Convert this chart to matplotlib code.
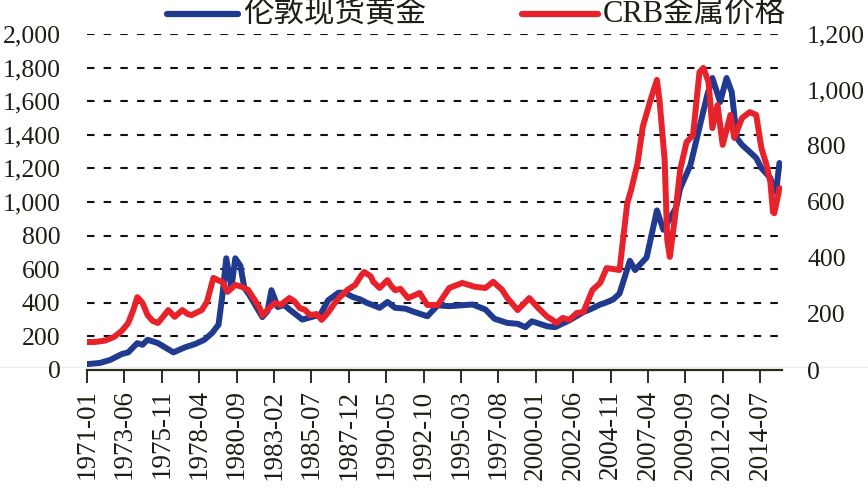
import matplotlib
matplotlib.use("Agg")
import matplotlib.pyplot as plt
from matplotlib.lines import Line2D

# ---------------- data ----------------
tick_labels = ["1971-01", "1973-06", "1975-11", "1978-04", "1980-09", "1983-02",
               "1985-07", "1987-12", "1990-05", "1992-10", "1995-03", "1997-08",
               "2000-01", "2002-06", "2004-11", "2007-04", "2009-09", "2012-02",
               "2014-07"]

gold_dates = ["1971-01", "1971-11", "1972-07", "1973-04", "1973-09", "1974-04",
              "1974-08", "1974-12", "1975-08", "1976-08", "1977-05", "1978-01",
              "1978-08", "1979-02", "1979-07", "1979-10", "1980-01", "1980-05",
              "1980-08", "1980-12", "1981-03", "1981-07", "1982-05", "1982-09",
              "1982-12", "1983-05", "1983-10", "1984-02", "1984-12", "1985-07",
              "1986-02", "1986-08", "1987-04", "1987-09", "1988-03", "1988-09",
              "1989-02", "1989-12", "1990-06", "1990-12", "1991-08", "1992-03",
              "1993-01", "1993-09", "1994-06", "1995-12", "1996-10", "1997-05",
              "1998-03", "1998-11", "1999-05", "1999-10", "2000-04", "2000-10",
              "2001-04", "2001-08", "2002-03", "2003-02", "2003-07", "2004-03",
              "2004-07", "2005-01", "2005-06", "2006-02", "2006-06", "2007-03",
              "2007-11", "2008-04", "2008-09", "2009-02", "2009-05", "2010-01",
              "2010-06", "2011-02", "2011-06", "2011-12", "2012-05", "2012-09",
              "2013-01", "2013-05", "2013-11", "2014-04", "2014-08", "2015-03",
              "2015-06", "2015-08", "2015-10"]
gold_values = [35, 42, 60, 95, 105, 160,
               150, 180, 160, 105, 135, 155,
               180, 220, 270, 445, 665, 490,
               665, 620, 490, 445, 315, 350,
               475, 375, 387, 360, 300, 315,
               330, 415, 460, 460, 435, 420,
               400, 370, 405, 370, 365, 345,
               320, 385, 380, 390, 360, 305,
               280, 275, 255, 290, 275, 260,
               255, 270, 295, 345, 360, 390,
               400, 420, 455, 650, 595, 670,
               950, 835, 900, 970, 1080, 1220,
               1380, 1636, 1738, 1595, 1738, 1655,
               1380, 1340, 1298, 1262, 1202, 1143,
               1060, 1100, 1232]

crb_dates = ["1971-01", "1971-07", "1972-03", "1972-10", "1973-04", "1973-09",
             "1974-01", "1974-04", "1974-08", "1974-12", "1975-04", "1975-08",
             "1975-12", "1976-04", "1976-09", "1977-03", "1977-07", "1977-10",
             "1978-02", "1978-06", "1978-10", "1979-03", "1979-07", "1979-10",
             "1980-02", "1980-08", "1981-01", "1981-06", "1981-11", "1982-03",
             "1982-05", "1982-11", "1983-03", "1983-07", "1984-02", "1984-06",
             "1984-10", "1985-02", "1985-06", "1985-11", "1986-03", "1986-08",
             "1986-12", "1987-05", "1987-11", "1988-05", "1988-10", "1988-12",
             "1989-05", "1989-07", "1989-12", "1990-06", "1990-09", "1990-12",
             "1991-04", "1991-10", "1992-07", "1993-01", "1993-09", "1994-06",
             "1995-04", "1996-02", "1996-10", "1997-04", "1997-11", "1998-03",
             "1998-11", "1999-08", "2000-03", "2000-10", "2001-02", "2001-05",
             "2001-10", "2002-03", "2002-09", "2003-02", "2003-09", "2004-03",
             "2004-08", "2005-02", "2005-06", "2005-12", "2006-03", "2006-08",
             "2006-12", "2007-06", "2007-11", "2008-01", "2008-05", "2008-07",
             "2008-09", "2009-01", "2009-05", "2009-10", "2010-03", "2010-08",
             "2010-11", "2011-03", "2011-06", "2011-10", "2012-02", "2012-08",
             "2012-11", "2013-05", "2013-11", "2014-04", "2014-08", "2014-12",
             "2015-03", "2015-05", "2015-06", "2015-09", "2015-10"]
crb_values = [100, 100, 105, 118, 140, 168,
              215, 260, 240, 196, 175, 168,
              190, 214, 190, 214, 200, 196,
              205, 214, 243, 329, 320, 315,
              279, 304, 297, 286, 250, 221,
              195, 225, 240, 232, 257, 245,
              221, 215, 196, 200, 179, 205,
              232, 260, 286, 304, 340, 350,
              335, 315, 293, 321, 300, 285,
              290, 257, 275, 232, 232, 293,
              311, 297, 293, 315, 286, 257,
              214, 257, 221, 190, 179, 168,
              186, 179, 204, 207, 286, 311,
              364, 360, 357, 596, 643, 739,
              868, 964, 1036, 964, 750, 464,
              404, 546, 714, 814, 839, 1064,
              1079, 1029, 864, 946, 804, 911,
              829, 900, 921, 911, 793, 732,
              671, 564, 560, 625, 650]


def month_index(s):
    y, m = s.split("-")
    return (int(y) - 1971) * 12 + int(m) - 1


gx = [month_index(d) for d in gold_dates]
cx = [month_index(d) for d in crb_dates]
tick_pos = [month_index(d) for d in tick_labels]

# ---------------- style ----------------
NAVY = "#1f3a8e"
RED = "#e8222b"
TXT = "#1e1e14"
SERIF = ["Liberation Serif", "DejaVu Serif"]
CJK = ["Liberation Serif", "Noto Sans CJK SC", "DejaVu Sans"]

fig = plt.figure(figsize=(8.68, 4.93), dpi=100)
fig.patch.set_facecolor("white")

# faint baseline across the figure
fig.add_artist(Line2D([0, 1], [1 - 367 / 493, 1 - 367 / 493], color="#ececec",
                      lw=0.8, transform=fig.transFigure, zorder=0))

ax = fig.add_axes([87 / 868, 1 - 370 / 493, (782 - 87) / 868, (370 - 34) / 493])
ax2 = ax.twinx()

ax.set_xlim(0, 539)
ax.set_ylim(0, 2000)
ax2.set_ylim(0, 1200)

# grid lines (dashed) on left scale
for v in range(200, 2001, 200):
    ax.axhline(v, color="#111111", lw=1.5, ls=(0, (3.6, 4.4)), zorder=1)

ax.plot(gx, gold_values, color=NAVY, lw=4.3, solid_joinstyle="round",
        solid_capstyle="round", zorder=3)
ax2.plot(cx, crb_values, color=RED, lw=4.3, solid_joinstyle="round",
         solid_capstyle="round", zorder=3)

for a in (ax, ax2):
    for s in ("left", "right", "top", "bottom"):
        a.spines[s].set_visible(False)
    a.patch.set_visible(False)

ax.spines["bottom"].set_visible(True)
ax.spines["bottom"].set_color("#2b2b20")
ax.spines["bottom"].set_linewidth(1.6)

ax.set_yticks(range(0, 2001, 200))
ax.set_yticklabels([f"{v:,}" for v in range(0, 2001, 200)])
ax2.set_yticks(range(0, 1201, 200))
ax2.set_yticklabels([f"{v:,}" for v in range(0, 1201, 200)])

ax.tick_params(axis="y", length=0, pad=19, labelsize=18.5, labelcolor=TXT)
ax2.tick_params(axis="y", length=0, pad=18, labelsize=18.5, labelcolor=TXT)

ax.set_xticks(tick_pos)
ax.set_xticklabels(tick_labels, rotation=90)
ax.tick_params(axis="x", direction="out", length=9, width=1.4, color="#2b2b20",
               pad=5, labelsize=19.5, labelcolor=TXT)

for lab in ax.get_xticklabels() + ax.get_yticklabels() + ax2.get_yticklabels():
    lab.set_family(SERIF)

# ---------------- legend (manual, at top) ----------------
ly = 1 - 14 / 493
fig.add_artist(Line2D([167 / 868, 238 / 868], [ly, ly], color=NAVY, lw=4.5,
                      solid_capstyle="round", transform=fig.transFigure))
fig.text(243 / 868, ly, "伦敦现货黄金", family=CJK, fontsize=22, color=TXT,
         va="center", ha="left")
fig.add_artist(Line2D([522 / 868, 598 / 868], [ly, ly], color=RED, lw=4.5,
                      solid_capstyle="round", transform=fig.transFigure))
fig.text(603 / 868, ly, "CRB金属价格", family=CJK, fontsize=22, color=TXT,
         va="center", ha="left")

fig.savefig("out.png", dpi=100, facecolor="white")
